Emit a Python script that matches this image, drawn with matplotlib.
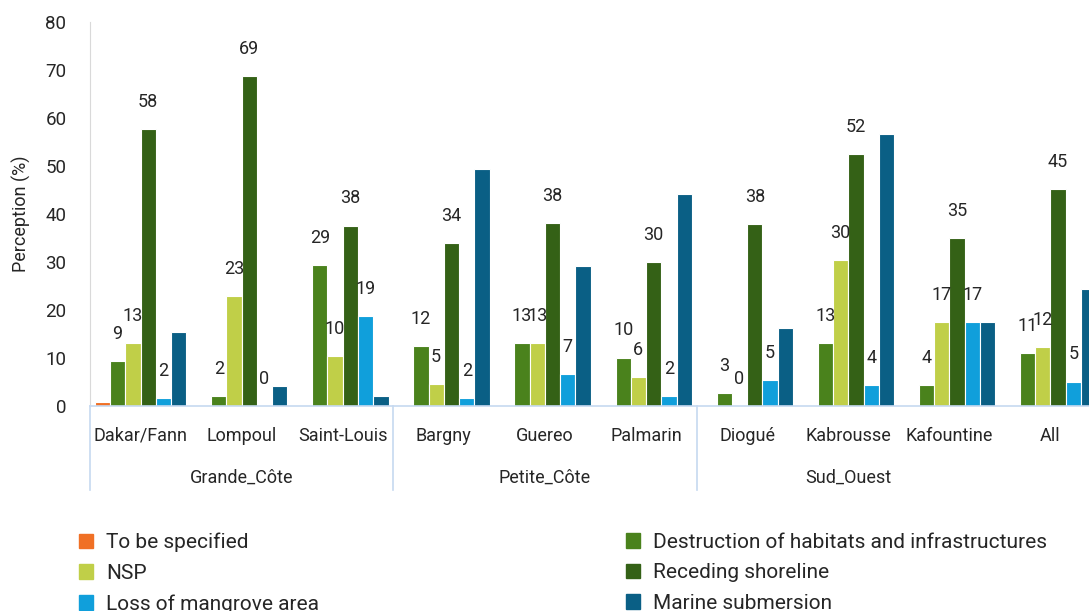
import numpy as np
import matplotlib
matplotlib.use('Agg')
import matplotlib.pyplot as plt
from matplotlib.patches import Patch

plt.rcParams['font.family'] = ['Roboto', 'DejaVu Sans']

sites = ['Dakar/Fann', 'Lompoul', 'Saint-Louis', 'Bargny', 'Guereo', 'Palmarin',
         'Diogué', 'Kabrousse', 'Kafountine', 'All']
zones = ['Grande_Côte', 'Petite_Côte', 'Sud_Ouest']
zone_centers = [1, 4, 7]
zone_edges = [-0.5, 2.5, 5.5]

series = ['To be specified', 'Destruction of habitats and infrastructures', 'NSP',
          'Receding shoreline', 'Loss of mangrove area', 'Marine submersion']
to_be_specified = [0.8, 0, 0, 0, 0, 0, 0, 0, 0, 0]
destruction = [9.4, 2.1, 29.3, 12.4, 13.1, 10.1, 2.8, 13.1, 4.4, 11.0]
nsp = [13.1, 23.0, 10.4, 4.6, 13.1, 6.0, 0, 30.4, 17.4, 12.2]
receding = [57.7, 68.8, 37.6, 34.0, 38.2, 30.0, 38.0, 52.4, 35.0, 45.3]
mangrove = [1.6, 0, 18.8, 1.6, 6.6, 2.1, 5.4, 4.4, 17.4, 5.1]
submersion = [15.5, 4.1, 2.0, 49.3, 29.1, 44.1, 16.3, 56.6, 17.6, 24.3]
colors = ['#F07025', '#4A821C', '#C0CF48', '#346116', '#109FDB', '#0A5F85']
labelled = [False, True, True, True, True, False]

data = [to_be_specified, destruction, nsp, receding, mangrove, submersion]

fig = plt.figure(figsize=(10.89, 6.11), dpi=100)
W, H = 1089, 611
ax = fig.add_axes([90 / W, 1 - 406 / H, 1011 / W, 384 / H])

x = np.arange(len(sites))
pitch = 0.151
txt = '#262626'
for i, vals in enumerate(data):
    pos = x + (i - 2.5) * pitch
    bars = ax.bar(pos, vals, width=pitch, color=colors[i], edgecolor='white',
                  linewidth=0.8, label=series[i])
    if labelled[i]:
        for b, v in zip(bars, vals):
            ax.annotate('%.0f' % v, (b.get_x() + b.get_width() / 2, v),
                        xytext=(0, 13), textcoords='offset points',
                        ha='center', va='bottom', fontsize=13, color=txt)

ax.set_xlim(-0.5, 9.5)
ax.set_ylim(0, 80)
ax.set_yticks(range(0, 81, 10))
ax.tick_params(axis='y', length=0, labelsize=13.5, colors=txt, pad=17)
ax.set_ylabel('Perception (%)', fontsize=13, color=txt, labelpad=10)
ax.set_xticks(x)
ax.set_xticklabels(sites, fontsize=13, color=txt)
ax.tick_params(axis='x', length=0, pad=15)

for s in ['top', 'right']:
    ax.spines[s].set_visible(False)
ax.spines['left'].set_color('#d9d9d9')
ax.spines['bottom'].set_color('#c6d9f0')
ax.spines['bottom'].set_linewidth(1.2)

# category grouping lines and zone labels
trans = ax.get_xaxis_transform()
for e in zone_edges:
    ax.plot([e, e], [0, -84 / 384], transform=trans, color='#c6d9f0', lw=1.2,
            clip_on=False)
for zc, z in zip(zone_centers, zones):
    ax.text(zc, -72 / 384, z, transform=trans, ha='center', va='center',
            fontsize=13, color=txt)

handles = [Patch(color=c) for c in colors]
leg_kw = dict(loc='upper left', frameon=False, fontsize=15, handlelength=0.7,
              handleheight=0.7, handletextpad=0.6, labelspacing=0.55,
              labelcolor=txt)
fig.legend([handles[0], handles[2], handles[4]],
           [series[0], series[2], series[4]],
           bbox_to_anchor=(60 / W, 1 - 514 / H), **leg_kw)
fig.legend([handles[1], handles[3], handles[5]],
           [series[1], series[3], series[5]],
           bbox_to_anchor=(607 / W, 1 - 514 / H), **leg_kw)

fig.savefig('out.png', dpi=100)
